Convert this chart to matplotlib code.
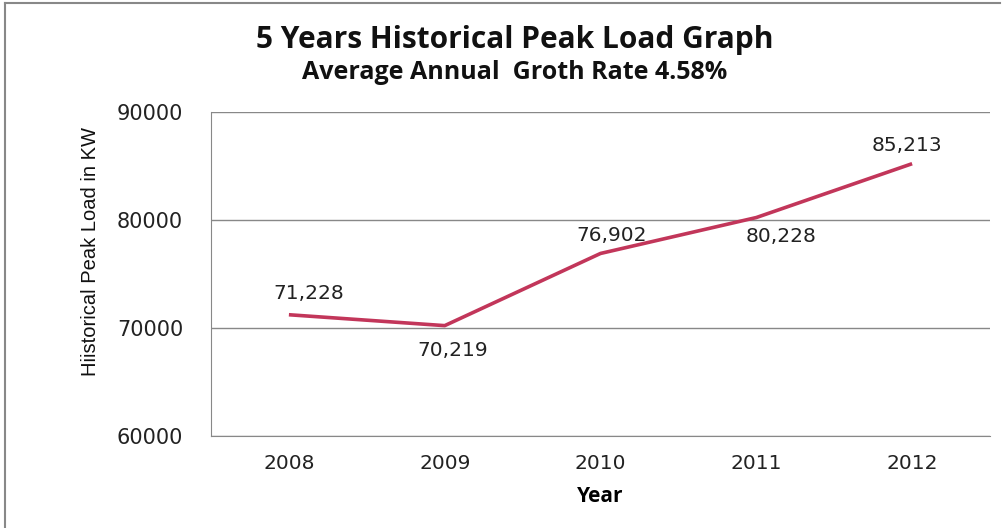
import matplotlib
matplotlib.use("Agg")
import matplotlib.pyplot as plt
from matplotlib.lines import Line2D

years = ["2008", "2009", "2010", "2011", "2012"]
peak_load = [71228, 70219, 76902, 80228, 85213]
y_ticks = [60000, 70000, 80000, 90000]
# label offsets in points (dx, dy)
label_offsets = [(14, 15), (6, -18), (8, 13), (18, -14), (-4, 13)]

fig = plt.figure(figsize=(10.07, 5.28), dpi=100)
ax = fig.add_axes([211/1007, 1-436/528, (990-211)/1007, (436-112)/528])

x = list(range(len(years)))
ax.plot(x, peak_load, color="#C2365A", lw=2.6, solid_capstyle="butt")
ax.set_xlim(-0.5, len(years)-0.5)
ax.set_ylim(60000, 90000)
ax.set_yticks(y_ticks)
ax.set_yticklabels([str(v) for v in y_ticks], fontsize=15, color="#222222", family="DejaVu Sans")
ax.set_xticks(x)
ax.set_xticklabels(years, fontsize=14.5, color="#222222", family="DejaVu Sans")
ax.tick_params(length=0, pad=13)
ax.tick_params(axis="y", pad=20)
ax.grid(axis="y", color="#888888", lw=1)
ax.set_axisbelow(True)
for s in ["top", "right"]:
    ax.spines[s].set_visible(False)
ax.spines["left"].set_color("#888888")
ax.spines["bottom"].set_color("#888888")

for xi, v, (dx, dy) in zip(x, peak_load, label_offsets):
    ax.annotate(f"{v:,}", (xi, v), xytext=(dx, dy), textcoords="offset points",
                ha="center", va="center", fontsize=14.5, color="#222222", family="DejaVu Sans")

ax.set_xlabel("Year", fontsize=15, fontweight="bold", family="Open Sans", labelpad=9)
fig.text(90/1007, 1-252/528, "Hiistorical Peak Load in KW", rotation=90, ha="center", va="center",
         fontsize=14.5, family="Liberation Sans", color="#111111")

fig.text(515/1007, 1-40/528, "5 Years Historical Peak Load Graph", ha="center", va="center",
         fontsize=21.5, fontweight="bold", family="Open Sans", color="#111111")
fig.text(515/1007, 1-73/528, "Average Annual  Groth Rate 4.58%", ha="center", va="center",
         fontsize=18, fontweight="bold", family="Open Sans", color="#111111")

fig.add_artist(Line2D([5/1007, 1000/1007], [1-3/528, 1-3/528], color="#888888", lw=1.5))
fig.add_artist(Line2D([5/1007, 5/1007], [0, 1-3/528], color="#888888", lw=1.5))

fig.savefig("out.png", dpi=100)
